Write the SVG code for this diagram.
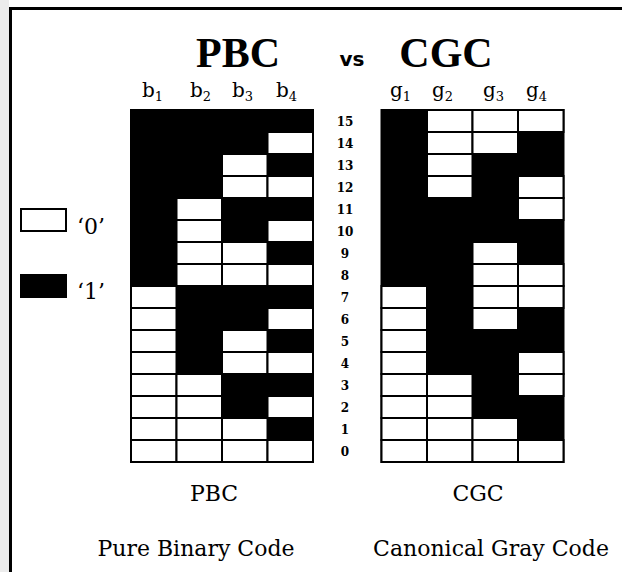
<svg xmlns="http://www.w3.org/2000/svg" width="622" height="572" viewBox="0 0 622 572">
  <style>
    .frame { fill: none; stroke: #000; stroke-width: 3; }
    .grid { fill: #000; stroke: #000; stroke-width: 2; }
    .z { fill: #fff; stroke: #000; stroke-width: 2; }
    .title { font-family: "Liberation Serif", serif; font-weight: bold; font-size: 42px; fill: #000; text-anchor: middle; }
    .vs { font-family: "DejaVu Sans", sans-serif; font-weight: bold; font-size: 20px; fill: #000; text-anchor: middle; }
    .bit { font-family: "DejaVu Serif", serif; font-size: 20px; fill: #000; }
    .sub { font-size: 13px; }
    .num { font-family: "DejaVu Serif", serif; font-weight: bold; font-size: 12px; fill: #000; text-anchor: middle; }
    .cap { font-family: "DejaVu Serif", serif; font-size: 22px; fill: #000; text-anchor: middle; }
    .key { font-family: "DejaVu Serif", serif; font-size: 22px; fill: #000; }
  </style>

  <!-- page background and frame -->
  <rect x="0" y="0" width="622" height="572" fill="#fff"/>
  <rect x="0" y="0" width="9" height="572" fill="#ececec"/>
  <path class="frame" d="M10.5,580 V8.5 H630"/>

  <!-- headings -->
  <g id="headings">
    <text class="title" x="238" y="67">PBC</text>
    <text class="vs" x="352" y="66">vs</text>
    <text class="title" x="446" y="67">CGC</text>
  </g>

  <!-- column labels -->
  <g id="bit-labels">
    <text class="bit" x="142" y="97">b<tspan class="sub" dy="4">1</tspan></text>
    <text class="bit" x="190" y="97">b<tspan class="sub" dy="4">2</tspan></text>
    <text class="bit" x="232" y="97">b<tspan class="sub" dy="4">3</tspan></text>
    <text class="bit" x="276" y="97">b<tspan class="sub" dy="4">4</tspan></text>
    <text class="bit" x="390" y="97">g<tspan class="sub" dy="4">1</tspan></text>
    <text class="bit" x="432" y="97">g<tspan class="sub" dy="4">2</tspan></text>
    <text class="bit" x="483" y="97">g<tspan class="sub" dy="4">3</tspan></text>
    <text class="bit" x="526" y="97">g<tspan class="sub" dy="4">4</tspan></text>
  </g>

  <!-- pure binary code table: black background, '0' cells drawn white -->
  <g id="pbc-table">
    <rect class="grid" x="131" y="110" width="182" height="352"/>
    <rect class="z" x="267.5" y="132" width="45.5" height="22"/>
    <rect class="z" x="222" y="154" width="45.5" height="22"/>
    <rect class="z" x="222" y="176" width="45.5" height="22"/>
    <rect class="z" x="267.5" y="176" width="45.5" height="22"/>
    <rect class="z" x="176.5" y="198" width="45.5" height="22"/>
    <rect class="z" x="176.5" y="220" width="45.5" height="22"/>
    <rect class="z" x="267.5" y="220" width="45.5" height="22"/>
    <rect class="z" x="176.5" y="242" width="45.5" height="22"/>
    <rect class="z" x="222" y="242" width="45.5" height="22"/>
    <rect class="z" x="176.5" y="264" width="45.5" height="22"/>
    <rect class="z" x="222" y="264" width="45.5" height="22"/>
    <rect class="z" x="267.5" y="264" width="45.5" height="22"/>
    <rect class="z" x="131" y="286" width="45.5" height="22"/>
    <rect class="z" x="131" y="308" width="45.5" height="22"/>
    <rect class="z" x="267.5" y="308" width="45.5" height="22"/>
    <rect class="z" x="131" y="330" width="45.5" height="22"/>
    <rect class="z" x="222" y="330" width="45.5" height="22"/>
    <rect class="z" x="131" y="352" width="45.5" height="22"/>
    <rect class="z" x="222" y="352" width="45.5" height="22"/>
    <rect class="z" x="267.5" y="352" width="45.5" height="22"/>
    <rect class="z" x="131" y="374" width="45.5" height="22"/>
    <rect class="z" x="176.5" y="374" width="45.5" height="22"/>
    <rect class="z" x="131" y="396" width="45.5" height="22"/>
    <rect class="z" x="176.5" y="396" width="45.5" height="22"/>
    <rect class="z" x="267.5" y="396" width="45.5" height="22"/>
    <rect class="z" x="131" y="418" width="45.5" height="22"/>
    <rect class="z" x="176.5" y="418" width="45.5" height="22"/>
    <rect class="z" x="222" y="418" width="45.5" height="22"/>
    <rect class="z" x="131" y="440" width="45.5" height="22"/>
    <rect class="z" x="176.5" y="440" width="45.5" height="22"/>
    <rect class="z" x="222" y="440" width="45.5" height="22"/>
    <rect class="z" x="267.5" y="440" width="45.5" height="22"/>
  </g>

  <!-- canonical gray code table -->
  <g id="cgc-table">
    <rect class="grid" x="381.5" y="110" width="182" height="352"/>
    <rect class="z" x="427" y="110" width="45.5" height="22"/>
    <rect class="z" x="472.5" y="110" width="45.5" height="22"/>
    <rect class="z" x="518" y="110" width="45.5" height="22"/>
    <rect class="z" x="427" y="132" width="45.5" height="22"/>
    <rect class="z" x="472.5" y="132" width="45.5" height="22"/>
    <rect class="z" x="427" y="154" width="45.5" height="22"/>
    <rect class="z" x="427" y="176" width="45.5" height="22"/>
    <rect class="z" x="518" y="176" width="45.5" height="22"/>
    <rect class="z" x="518" y="198" width="45.5" height="22"/>
    <rect class="z" x="472.5" y="242" width="45.5" height="22"/>
    <rect class="z" x="472.5" y="264" width="45.5" height="22"/>
    <rect class="z" x="518" y="264" width="45.5" height="22"/>
    <rect class="z" x="381.5" y="286" width="45.5" height="22"/>
    <rect class="z" x="472.5" y="286" width="45.5" height="22"/>
    <rect class="z" x="518" y="286" width="45.5" height="22"/>
    <rect class="z" x="381.5" y="308" width="45.5" height="22"/>
    <rect class="z" x="472.5" y="308" width="45.5" height="22"/>
    <rect class="z" x="381.5" y="330" width="45.5" height="22"/>
    <rect class="z" x="381.5" y="352" width="45.5" height="22"/>
    <rect class="z" x="518" y="352" width="45.5" height="22"/>
    <rect class="z" x="381.5" y="374" width="45.5" height="22"/>
    <rect class="z" x="427" y="374" width="45.5" height="22"/>
    <rect class="z" x="518" y="374" width="45.5" height="22"/>
    <rect class="z" x="381.5" y="396" width="45.5" height="22"/>
    <rect class="z" x="427" y="396" width="45.5" height="22"/>
    <rect class="z" x="381.5" y="418" width="45.5" height="22"/>
    <rect class="z" x="427" y="418" width="45.5" height="22"/>
    <rect class="z" x="472.5" y="418" width="45.5" height="22"/>
    <rect class="z" x="381.5" y="440" width="45.5" height="22"/>
    <rect class="z" x="427" y="440" width="45.5" height="22"/>
    <rect class="z" x="472.5" y="440" width="45.5" height="22"/>
    <rect class="z" x="518" y="440" width="45.5" height="22"/>
  </g>

  <!-- row values -->
  <g id="row-values">
    <text class="num" x="345" y="125.5">15</text>
    <text class="num" x="345" y="147.5">14</text>
    <text class="num" x="345" y="169.5">13</text>
    <text class="num" x="345" y="191.5">12</text>
    <text class="num" x="345" y="213.5">11</text>
    <text class="num" x="345" y="235.5">10</text>
    <text class="num" x="345" y="257.5">9</text>
    <text class="num" x="345" y="279.5">8</text>
    <text class="num" x="345" y="301.5">7</text>
    <text class="num" x="345" y="323.5">6</text>
    <text class="num" x="345" y="345.5">5</text>
    <text class="num" x="345" y="367.5">4</text>
    <text class="num" x="345" y="389.5">3</text>
    <text class="num" x="345" y="411.5">2</text>
    <text class="num" x="345" y="433.5">1</text>
    <text class="num" x="345" y="455.5">0</text>
  </g>

  <!-- key -->
  <g id="key-zero">
    <rect class="z" x="21" y="209" width="45" height="22"/>
    <text class="key" x="77" y="234">‘0’</text>
  </g>
  <g id="key-one">
    <rect class="grid" x="21" y="275" width="45" height="22"/>
    <text class="key" x="77" y="299">‘1’</text>
  </g>

  <!-- captions -->
  <g id="captions">
    <text class="cap" x="214" y="501">PBC</text>
    <text class="cap" x="478" y="501">CGC</text>
    <text class="cap" x="196" y="556">Pure Binary Code</text>
    <text class="cap" x="491" y="556">Canonical Gray Code</text>
  </g>
</svg>
